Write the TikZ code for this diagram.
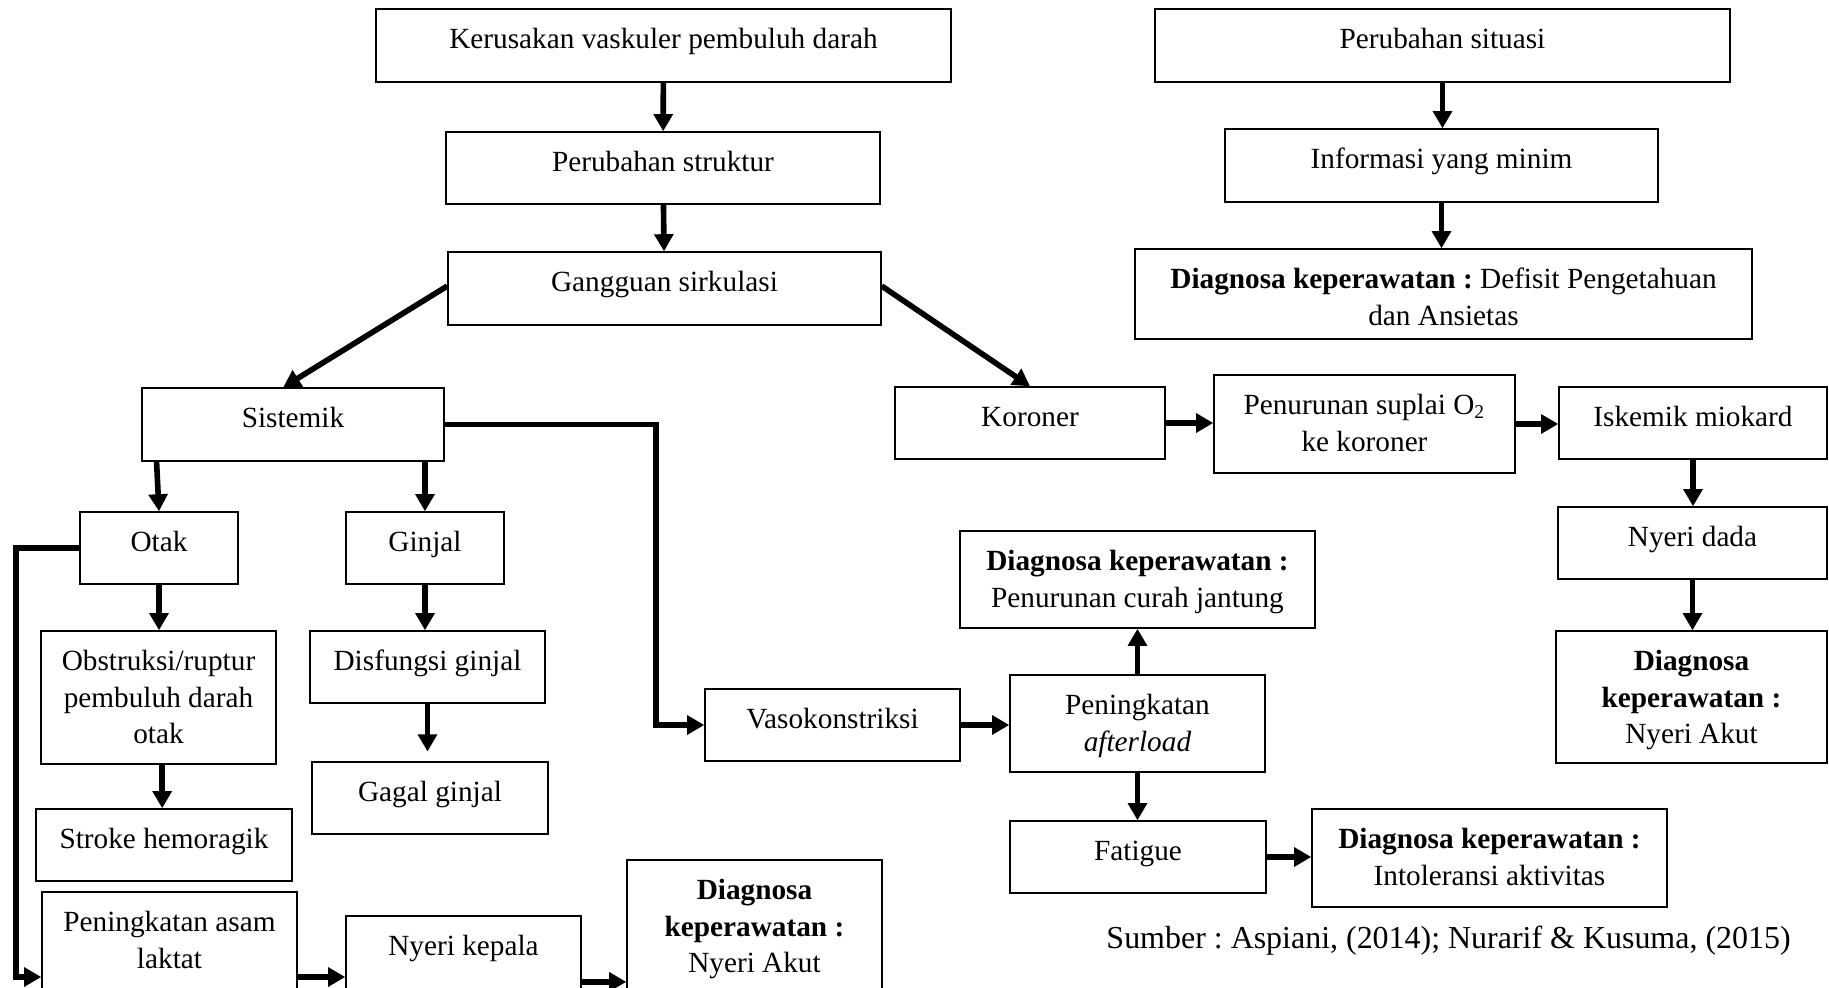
\documentclass[tikz,border=0pt]{standalone}
\usepackage{fontspec}
\setmainfont{Liberation Serif}
\usetikzlibrary{arrows.meta,fit,calc}
\tikzset{
  bx/.style={draw, line width=0.6pt, inner sep=0pt},
  lbl/.style={anchor=north, inner sep=0pt, align=center, yshift=-5.8pt,
    font=\fontsize{12}{15}\selectfont},
  arr/.style={line width=2.3pt, -{Triangle[length=7pt, width=7.6pt]}},
}
\newcommand\bx[6]{\node[bx, fit={(#2,#3) (#4,#5)}, label={[lbl]north:{#6}}] (#1) {};}
\frenchspacing
\begin{document}
\begin{tikzpicture}[x=0.41pt, y=-0.41pt]
\useasboundingbox (0,0) rectangle (1829,988);
% left column
\bx{kerusakan}{376}{9}{951}{82}{\strut Kerusakan vaskuler pembuluh darah}
\bx{perstruk}{446}{132}{880}{204}{\strut Perubahan struktur}
\bx{gangguan}{448}{252}{881}{325}{\strut Gangguan sirkulasi}
\bx{sistemik}{142}{388}{444}{461}{\strut Sistemik}
\bx{otak}{80}{512}{238}{584}{\strut Otak}
\bx{ginjal}{346}{512}{504}{584}{\strut Ginjal}
\bx{obstruksi}{41}{631}{276}{764}{\strut Obstruksi/ruptur\\pembuluh darah\\otak}
\bx{disfungsi}{310}{631}{545}{703}{\strut Disfungsi ginjal}
\bx{gagal}{312}{762}{548}{834}{\strut Gagal ginjal}
\bx{stroke}{36}{809}{292}{881}{\strut Stroke hemoragik}
\bx{asam}{42}{892}{297}{1010}{\strut Peningkatan asam\\laktat}
\bx{nyerikep}{346}{916}{581}{1010}{\strut Nyeri kepala}
\bx{dxakuta}{627}{860}{882}{1010}{\strut\textbf{Diagnosa}\\\textbf{keperawatan :}\\Nyeri Akut}
% middle
\bx{koroner}{895}{387}{1165}{459}{\strut Koroner}
\bx{vaso}{705}{689}{960}{761}{\strut Vasokonstriksi}
\bx{dxcurah}{960}{531}{1315}{628}{\strut\textbf{Diagnosa keperawatan :}\\Penurunan curah jantung}
\bx{afterload}{1010}{675}{1265}{772}{\strut Peningkatan\\\textit{afterload}}
\bx{fatigue}{1010}{821}{1266}{893}{\strut Fatigue}
\bx{dxintol}{1312}{809}{1667}{907}{\strut\textbf{Diagnosa keperawatan :}\\Intoleransi aktivitas}
% right
\bx{penurunan}{1214}{375}{1515}{473}{\strut Penurunan suplai O\textsubscript{2}\\ke koroner}
\bx{iskemik}{1559}{387}{1827}{459}{\strut Iskemik miokard}
\bx{nyeridada}{1558}{507}{1827}{579}{\strut Nyeri dada}
\bx{dxakutb}{1556}{631}{1827}{763}{\strut\textbf{Diagnosa}\\\textbf{keperawatan :}\\Nyeri Akut}
\bx{situasi}{1155}{9}{1730}{82}{\strut Perubahan situasi}
\bx{informasi}{1225}{129}{1658}{202}{\strut Informasi yang minim}
\bx{dxdefisit}{1135}{249}{1752}{339}{\strut\textbf{Diagnosa keperawatan :} Defisit Pengetahuan\\dan Ansietas}
\node[anchor=base west, inner sep=0pt, font=\fontsize{13.1}{16}\selectfont] (sumber) at (1106,948) {Sumber : Aspiani, (2014); Nurarif \& Kusuma, (2015)};
% coordinates for bends
\coordinate (vx) at (656,0);
\coordinate (lx) at (16,0);
\coordinate (ly) at (0,977);
% connectors
\draw[arr] (kerusakan) -- (perstruk);
\draw[arr] (perstruk) -- (gangguan);
\draw[arr] ([yshift=1pt]gangguan.west) -- ([xshift=-4pt]sistemik.north);
\draw[arr] ([yshift=1pt]gangguan.east) -- (koroner.north);
\draw[arr] ([xshift=-1pt]sistemik.south -| otak.north) -- (otak.north);
\draw[arr] (sistemik.south -| ginjal.north) -- (ginjal.north);
\draw[arr] (otak.south) -- (otak.south |- obstruksi.north);
\draw[arr] (ginjal.south) -- (ginjal.south |- disfungsi.north);
\draw[arr] (disfungsi.south) -- ([yshift=4pt]disfungsi.south |- gagal.north);
\draw[arr] ([xshift=1.5pt]obstruksi.south) -- ([xshift=1.5pt]obstruksi.south |- stroke.north);
\draw[arr] (sistemik.east) -- (sistemik.east -| vx) |- (vaso.west);
\draw[arr] (otak.west) -- (otak.west -| lx) |- (asam.west |- ly);
\draw[arr] (asam.east |- ly) -- (nyerikep.west |- ly);
\draw[arr] ([yshift=-2pt]nyerikep.east |- ly) -- ([yshift=-2pt]dxakuta.west |- ly);
\draw[arr] (vaso.east) -- (vaso.east -| afterload.west);
\draw[arr] (afterload.north) -- (afterload.north |- dxcurah.south);
\draw[arr] (afterload.south) -- (afterload.south |- fatigue.north);
\draw[arr] (fatigue.east) -- (fatigue.east -| dxintol.west);
\draw[arr] (koroner.east) -- (koroner.east -| penurunan.west);
\draw[arr] (penurunan.west -| penurunan.east) coordinate (pe) -- (pe -| iskemik.west);
\draw[arr] (iskemik.south) -- (iskemik.south |- nyeridada.north);
\draw[arr] (nyeridada.south) -- (nyeridada.south |- dxakutb.north);
\draw[arr] (situasi.south) -- (situasi.south |- informasi.north);
\draw[arr] (informasi.south) -- (informasi.south |- dxdefisit.north);
\end{tikzpicture}
\end{document}
